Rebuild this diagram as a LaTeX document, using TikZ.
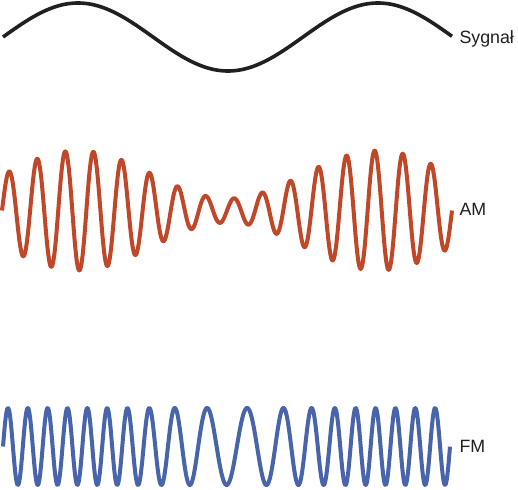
\documentclass[tikz,border=0pt]{standalone}
\usepackage{fontspec}
\setmainfont{Liberation Sans}
\definecolor{sigblack}{RGB}{35,31,32}
\definecolor{amred}{RGB}{192,72,40}
\definecolor{fmblue}{RGB}{72,100,170}
\begin{document}
\begin{tikzpicture}[x=1pt,y=-1pt,
  wave/.style={line width=#1, line join=round},
  lbl/.style={anchor=base west, inner sep=0pt, font=\fontsize{17.8}{20}\selectfont, text=sigblack},
  declare function={
    fmu(\t)=min(max(\t,101),371);
    fmcyc(\t)=0.0504*(\t-3)-0.02614*((fmu(\t)-101)/2+21.486*sin((fmu(\t)-236)*1.333333));
  }]
\useasboundingbox (0,0) rectangle (518,489);
% signal
\draw[wave=3.6pt, sigblack] plot[domain=3:452, samples=300] (\x, {37-34*sin((\x-3)*1.2)});
% AM
\draw[wave=4pt, amred] plot[domain=2:452, samples=900] (\x, {210.5-(36+24*sin((\x-3)*1.2))*sin((\x-2)*12.8)});
% FM
\draw[wave=4pt, fmblue] plot[domain=3:450, samples=1000] (\x, {446.5-38.5*sin(360*fmcyc(\x))});
% labels
\node[lbl] (sig) at (459.3,43.5) {Sygnał};
\node[lbl] (am) at (459.3,215) {AM};
\node[lbl] (fm) at (459.3,452.7) {FM};
\end{tikzpicture}
\end{document}
